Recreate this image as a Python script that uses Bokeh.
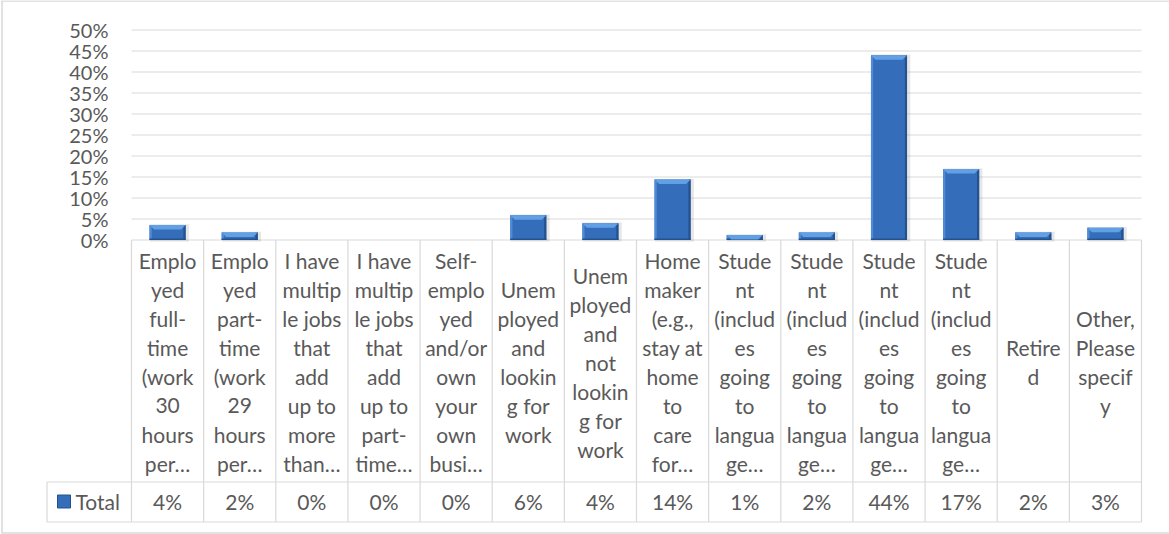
from bokeh.plotting import figure
from bokeh.models import Range1d
from bokeh.core.properties import value
from bokeh.embed import file_html
from bokeh.resources import INLINE

# ---------------- data ----------------
categories = [
    "Emplo\nyed\nfull-\ntime\n(work\n30\nhours\nper…",
    "Emplo\nyed\npart-\ntime\n(work\n29\nhours\nper…",
    "I have\nmultip\nle jobs\nthat\nadd\nup to\nmore\nthan…",
    "I have\nmultip\nle jobs\nthat\nadd\nup to\npart-\ntime…",
    "Self-\nemplo\nyed\nand/or\nown\nyour\nown\nbusi…",
    "Unem\nployed\nand\nlookin\ng for\nwork",
    "Unem\nployed\nand\nnot\nlookin\ng for\nwork",
    "Home\nmaker\n(e.g.,\nstay at\nhome\nto\ncare\nfor…",
    "Stude\nnt\n(includ\nes\ngoing\nto\nlangua\nge…",
    "Stude\nnt\n(includ\nes\ngoing\nto\nlangua\nge…",
    "Stude\nnt\n(includ\nes\ngoing\nto\nlangua\nge…",
    "Stude\nnt\n(includ\nes\ngoing\nto\nlangua\nge…",
    "Retire\nd",
    "Other,\nPlease\nspecif\ny",
]
values = [3.6, 1.8, 0.0, 0.0, 0.0, 5.9, 4.0, 14.4, 1.2, 1.8, 44.0, 16.9, 1.8, 2.9]
value_labels = ["4%", "2%", "0%", "0%", "0%", "6%", "4%", "14%", "1%", "2%", "44%", "17%", "2%", "3%"]
y_ticks = [0, 5, 10, 15, 20, 25, 30, 35, 40, 45, 50]
y_tick_labels = ["0%", "5%", "10%", "15%", "20%", "25%", "30%", "35%", "40%", "45%", "50%"]
series_name = "Total"

# ---------------- geometry (page pixels) ----------------
W, H = 1169, 534
ORG_X, ORG_Y = 0, 0
PLOT_L, PLOT_R = 131, 1141
Y0, PX_PER_PCT = 239.5, 4.2
N = len(categories)
COLW = (PLOT_R - PLOT_L) / N
FONT = value("Lato")
TXT = "#595959"
GRID = "#d9d9d9"
FS = "21px"


def dx(X):
    return (X - PLOT_L) / COLW


def dy(Y):
    return (Y0 - Y) / PX_PER_PCT


p = figure(width=W, height=H,
           x_range=Range1d(dx(ORG_X), dx(ORG_X + W)),
           y_range=Range1d(dy(ORG_Y + H), dy(ORG_Y)),
           x_axis_type=None, y_axis_type=None,
           output_backend="svg", toolbar_location=None,
           min_border=0, outline_line_color=None,
           background_fill_color="white", border_fill_color="white")

# outer chart border (left, top, bottom)
p.segment(x0=[dx(1.5), dx(1), dx(1)], x1=[dx(1.5), dx(1170), dx(1170)],
          y0=[dy(0), dy(0.5), dy(532.5)], y1=[dy(532.5), dy(0.5), dy(532.5)],
          line_color=GRID, line_width=1.5)

# gridlines
p.segment(x0=[0] * len(y_ticks), x1=[N] * len(y_ticks), y0=y_ticks, y1=y_ticks,
          line_color=GRID, line_width=1.2)

# y tick labels
p.text(x=[dx(108)] * len(y_ticks), y=y_ticks, text=y_tick_labels,
       text_font=FONT, text_font_size="20px", text_color=TXT,
       text_align="right", text_baseline="middle")

# bars (bevelled look)
BW = 0.5
EDGE = 2.2 / COLW          # side strip width (2 px)
BEV_X = 4.5 / COLW         # bevel inset in x
BEV_Y = 4.5 / PX_PER_PCT   # bevel depth
xs = [i + 0.5 for i in range(N)]
vis = [1.0 if v > 0 else 0.0 for v in values]
p.vbar(x=[x + 0.025 for x in xs], top=[v + 0.15 for v in values],
       bottom=[-0.35] * N, width=BW + 0.04,
       fill_color="#8c8c8c", fill_alpha=[0.22 * a for a in vis], line_color=None)
p.vbar(x=xs, top=values, bottom=0, width=BW,
       fill_color="#346eba", fill_alpha=vis, line_color=None)
p.vbar(x=[x - BW / 2 + EDGE / 2 for x in xs], top=values, bottom=0, width=EDGE,
       fill_color="#4f8bd6", fill_alpha=vis, line_color=None)
p.vbar(x=[x + BW / 2 - EDGE / 2 for x in xs], top=values, bottom=0, width=EDGE,
       fill_color="#24528f", fill_alpha=vis, line_color=None)
p.vbar(x=xs, top=[min(0.35, v) for v in values], bottom=0, width=BW,
       fill_color="#24528f", fill_alpha=vis, line_color=None)
bev_x, bev_y = [], []
for x, v in zip(xs, values):
    if v <= 0:
        continue
    d = min(BEV_Y, v)
    bev_x.append([x - BW / 2, x + BW / 2, x + BW / 2 - BEV_X, x - BW / 2 + BEV_X])
    bev_y.append([v, v, v - d, v - d])
p.patches(xs=bev_x, ys=bev_y, fill_color="#62a0e6", line_color=None)

# table lines
p.segment(x0=list(range(N + 1)), x1=list(range(N + 1)),
          y0=[dy(239.5)] * (N + 1), y1=[dy(521.5)] * (N + 1),
          line_color=GRID, line_width=1.2)
p.segment(x0=[dx(46.5), dx(46.5), dx(46.5)], x1=[N, N, dx(46.5)],
          y0=[dy(481.5), dy(521.5), dy(481.5)], y1=[dy(481.5), dy(521.5), dy(521.5)],
          line_color=GRID, line_width=1.2)

# category labels (wrapped lines, centred in each cell)
LINE_H = 29.05
CELL_MID = 361.7
lx, ly, lt = [], [], []
for i, cat in enumerate(categories):
    lines = cat.split("\n")
    n = len(lines)
    for k, s in enumerate(lines):
        lx.append(i + 0.5)
        ly.append(dy(CELL_MID + (k - (n - 1) / 2) * LINE_H))
        lt.append(s)
p.text(x=lx, y=ly, text=lt, text_font=FONT, text_font_size=FS,
       text_color=TXT, text_align="center", text_baseline="middle")

# value row
p.text(x=xs, y=[dy(501)] * N, text=value_labels, text_font=FONT,
       text_font_size=FS, text_color=TXT, text_align="center",
       text_baseline="middle")

# legend key + series name
p.scatter(x=[dx(63.5)], y=[dy(501)], marker="square", size=13,
          fill_color="#346eba", line_color="#24528f")
p.text(x=[dx(75)], y=[dy(501)], text=[series_name], text_font=FONT,
       text_font_size=FS, text_color=TXT, text_align="left",
       text_baseline="middle")

open("out.html", "w").write(file_html(p, INLINE))
